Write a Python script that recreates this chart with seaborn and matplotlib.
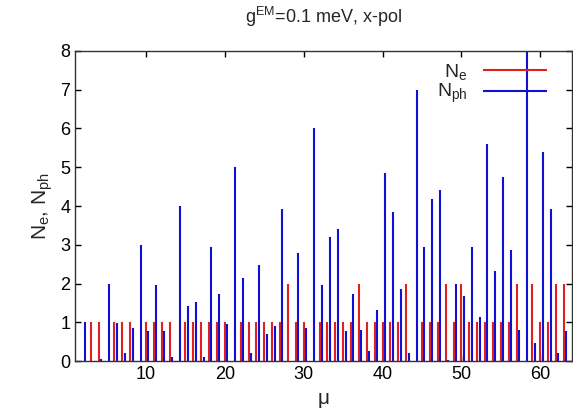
import numpy as np
import matplotlib
matplotlib.use('Agg')
import matplotlib.pyplot as plt
import seaborn as sns

# state index mu = 1..63
mu = np.arange(1, 64)
# electron occupation per state
n_e = [0, 0, 1, 1, 0, 1, 1, 1, 0, 1,
       1, 1, 1, 0, 1, 1, 1, 1, 1, 1,
       0, 1, 1, 1, 1, 1, 1, 2, 1, 1,
       0, 1, 1, 1, 1, 1, 2, 1, 1, 1,
       1, 1, 2, 0, 1, 1, 1, 2, 1, 2,
       1, 1, 1, 1, 1, 1, 2, 0, 2, 1,
       1, 2, 2]
# mean photon number per state
n_ph = [0, 1.0, 0, 0.05, 2.0, 0.98, 0.2, 0.85, 3.0, 0.78,
        1.97, 0.78, 0.12, 4.0, 1.43, 1.52, 0.1, 2.95, 1.74, 0.97,
        5.0, 2.15, 0.21, 2.47, 0.7, 0.91, 3.92, 0, 2.79, 0.86,
        6.0, 1.97, 3.19, 3.42, 0.77, 1.74, 0.81, 0.26, 1.31, 4.85,
        3.85, 1.87, 0.22, 7.0, 2.95, 4.19, 4.42, 0.03, 2.0, 1.67,
        2.95, 1.15, 5.6, 2.33, 4.75, 2.87, 0.81, 8.6, 0.46, 5.4,
        3.92, 0.2, 0.77]

sns.set_theme(style="ticks")
plt.rcParams['font.family'] = ['Liberation Sans', 'DejaVu Sans']
plt.rcParams['mathtext.fontset'] = 'custom'
plt.rcParams['mathtext.rm'] = 'Liberation Sans'
plt.rcParams['mathtext.it'] = 'Liberation Sans'

fig, ax = plt.subplots(figsize=(5.73, 4.2), dpi=100)
fig.subplots_adjust(left=0.131, right=0.998, top=0.879, bottom=0.140)

ax.vlines(mu, 0, n_e, color='#e02020', lw=1.5, label=r'N$_e$')
ax.vlines(mu + 0.3, 0, n_ph, color='#1010d4', lw=1.5, label=r'N$_{ph}$')

ax.set_xlim(1, 64)
ax.set_ylim(0, 8)
ax.set_xticks([10, 20, 30, 40, 50, 60])
ax.set_yticks(range(9))
ax.tick_params(direction='in', top=True, right=True, length=4, width=1,
               labelsize=13, colors='black')
for s in ax.spines.values():
    s.set_color('#333333')
    s.set_linewidth(1.0)

ax.set_xlabel('μ', fontsize=15)
ax.set_ylabel(r'N$_e$, N$_{ph}$', fontsize=15)
ax.set_title(r'g$^{EM}$=0.1 meV, x-pol', fontsize=13, pad=20)

leg = ax.legend(loc='upper right', frameon=False, markerfirst=False,
                handlelength=3.3, fontsize=14, labelspacing=0.0,
                handletextpad=0.8, bbox_to_anchor=(0.985, 1.02))

fig.savefig('out.png', dpi=100)
